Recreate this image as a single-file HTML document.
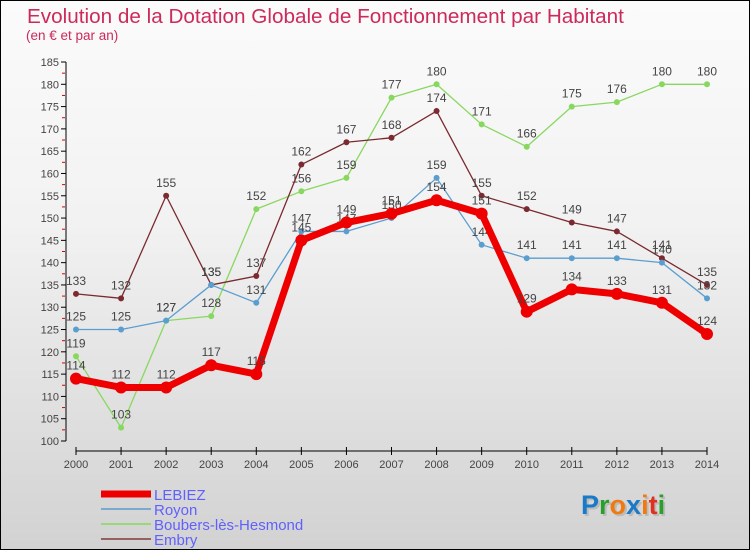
<!DOCTYPE html>
<html><head><meta charset="utf-8"><style>
body{margin:0}
#c{width:748px;height:548px;border:1px solid #000;background:linear-gradient(#fbfbfb,#f2f2f2 40%,#d2d2d2);position:relative;overflow:hidden;font-family:"Liberation Sans",sans-serif}
svg text{font-family:"Liberation Sans",sans-serif}
</style></head><body>
<div id="c">
<svg id="s" width="748" height="548">
<text x="26" y="22" font-size="20.7" fill="#cc2a5a">Evolution de la Dotation Globale de Fonctionnement par Habitant</text>
<text x="25" y="39" font-size="13.5" fill="#cc2a5a">(en € et par an)</text>
<g id="axes"></g><g id="series"></g><g id="legend"></g>
<text x="582" y="515" font-size="27" font-weight="bold" fill="#bbb">Proxiti</text>
<text x="580" y="513" font-size="27" font-weight="bold"><tspan fill="#1a7ac8">P</tspan><tspan fill="#2aa02a">r</tspan><tspan fill="#f07a10">o</tspan><tspan fill="#1a7ac8">x</tspan><tspan fill="#f07a10">i</tspan><tspan fill="#e03020">t</tspan><tspan fill="#2aa02a">i</tspan></text>
</svg></div>
<script>
const years=[2000,2001,2002,2003,2004,2005,2006,2007,2008,2009,2010,2011,2012,2013,2014];
const lebiez=[114,112,112,117,115,145,149,151,154,151,129,134,133,131,124];
const royon=[125,125,127,135,131,147,147,150,159,144,141,141,141,140,132];
const boubers=[119,103,127,128,152,156,159,177,180,171,166,175,176,180,180];
const embry=[133,132,155,135,137,162,167,168,174,155,152,149,147,141,135];
const yTicks=[100,105,110,115,120,125,130,135,140,145,150,155,160,165,170,175,180,185];
const NS="http://www.w3.org/2000/svg";
const X=i=>75+i*(631/14);
const Y=v=>440-(v-100)*(379/85);
function mk(tag,at,parent){const e=document.createElementNS(NS,tag);for(const k in at)e.setAttribute(k,at[k]);parent.appendChild(e);return e;}
const ax=document.getElementById('axes');
let a=mk('line',{x1:65,y1:61,x2:65,y2:440,stroke:'#000'},ax);


a=mk('line',{x1:75,y1:450,x2:706,y2:450,stroke:'#000'},ax);


yTicks.forEach(v=>{
 mk('line',{x1:60,y1:Y(v),x2:65,y2:Y(v),stroke:'#000'},ax);
 if(v<185)mk('line',{x1:61,y1:Y(v+2.5),x2:64,y2:Y(v+2.5),stroke:'#d00'},ax);
 const t=mk('text',{x:58,y:Y(v)+4,'font-size':11,'text-anchor':'end',fill:'#444'},ax);t.textContent=v;
 
 
});
years.forEach((y,i)=>{
 mk('line',{x1:X(i),y1:446,x2:X(i),y2:454,stroke:'#000'},ax);
 const t=mk('text',{x:X(i),y:467,'font-size':11,'text-anchor':'middle',fill:'#444'},ax);t.textContent=y;
 
 
});
const S=document.getElementById('series');
function draw(data,color,w,r,name){
 const g=mk('g',{},S);
 
 
 mk('polyline',{points:data.map((v,i)=>X(i)+','+Y(v)).join(' '),fill:'none',stroke:color,'stroke-width':w,'stroke-linejoin':'round'},g);
 data.forEach((v,i)=>{
  const c=mk('circle',{cx:X(i),cy:Y(v),r:r,fill:color},g);
  
  
  const t=mk('text',{x:X(i),y:Y(v)-9,'font-size':12,'text-anchor':'middle',fill:'#444'},g);t.textContent=v;
 });
}
draw(boubers,'#88d860',1.3,3,'boubers');
draw(embry,'#7a2a30',1.3,3,'embry');
draw(royon,'#5a9ed0',1.3,3,'royon');
draw(lebiez,'#ee0000',7,6,'lebiez');
const L=document.getElementById('legend');
const leg=[['LEBIEZ','#ee0000',7],['Royon','#7aaad0',2],['Boubers-lès-Hesmond','#98d878',2],['Embry','#956060',2]];
leg.forEach((l,i)=>{
 const yy=493+i*15;
 mk('line',{x1:100,y1:yy,x2:150,y2:yy,stroke:l[1],'stroke-width':l[2]},L);
 const t=mk('text',{x:153,y:yy+6,'font-size':15,fill:'#6060ff'},L);t.textContent=l[0];
 
 
});
</script></body></html>
